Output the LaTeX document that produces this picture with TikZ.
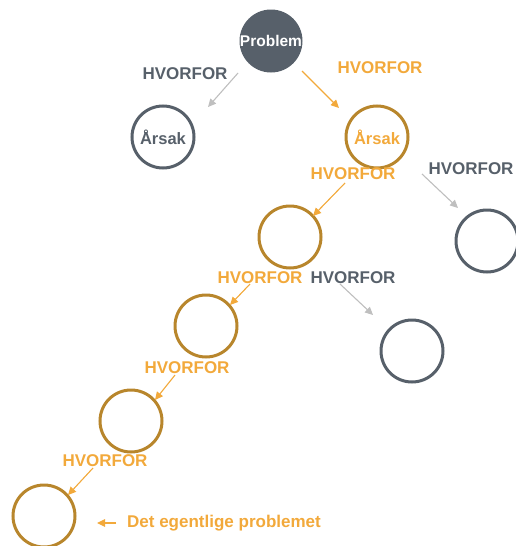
\documentclass[tikz,border=0pt]{standalone}
\usepackage{fontspec}
\setmainfont{Liberation Sans}
\usetikzlibrary{arrows.meta}
\definecolor{slate}{HTML}{57606A}
\definecolor{lightgray}{HTML}{BFBFBF}
\definecolor{amber}{HTML}{F2A93B}
\definecolor{bronze}{HTML}{B8862C}
\tikzset{
  ring/.style={circle, minimum size=62pt, inner sep=0pt, line width=3pt},
  grayring/.style={ring, draw=slate, text=slate},
  goldring/.style={ring, draw=bronze, text=amber},
  lbl/.style={font=\fontsize{17}{19}\selectfont\bfseries, inner sep=0pt},
  graylbl/.style={lbl, text=slate},
  goldlbl/.style={lbl, text=amber},
  arr/.style={line width=1.1pt, -{Triangle[length=8pt,width=7.5pt]}},
  grayarr/.style={arr, draw=lightgray, fill=lightgray},
  goldarr/.style={arr, draw=amber, fill=amber}
}
\begin{document}
\begin{tikzpicture}[x=1pt,y=-1pt]
\useasboundingbox (0,0) rectangle (516,546);

% circles
\node[ring, fill=slate, text=white, font=\fontsize{15.5}{17}\selectfont\bfseries] (prob) at (271,41) {Problem};
\node[grayring, font=\fontsize{16.5}{18}\selectfont\bfseries] (causeL) at (163,137) {Årsak};
\node[goldring, font=\fontsize{16.5}{18}\selectfont\bfseries] (causeR) at (377,137) {Årsak};
\node[grayring] (g1) at (487,241) {};
\node[goldring] (c2) at (290,237) {};
\node[grayring] (g2) at (412,351) {};
\node[goldring] (c3) at (206,326) {};
\node[goldring] (c4) at (131,421) {};
\node[goldring] (c5) at (44,516) {};

% labels
\node[graylbl] (w1) at (185,74) {HVORFOR};
\node[goldlbl] (w2) at (380,68) {HVORFOR};
\node[goldlbl] (w3) at (353,174) {HVORFOR};
\node[graylbl] (w4) at (471,169) {HVORFOR};
\node[goldlbl] (w5) at (260,278) {HVORFOR};
\node[graylbl] (w6) at (353,278) {HVORFOR};
\node[goldlbl] (w7) at (187,368) {HVORFOR};
\node[goldlbl] (w8) at (105,461) {HVORFOR};
\node[goldlbl, anchor=west] (root) at (127,523) {Det egentlige problemet};

% arrow end points
\coordinate (a1s) at (238,73);  \coordinate (a1e) at (208,107);
\coordinate (a2s) at (302,71);  \coordinate (a2e) at (339,108);
\coordinate (a3s) at (345,183); \coordinate (a3e) at (313,216);
\coordinate (a4s) at (422,174); \coordinate (a4e) at (458,208);
\coordinate (a5s) at (250,284); \coordinate (a5e) at (230,305);
\coordinate (a6s) at (340,284); \coordinate (a6e) at (373,315);
\coordinate (a7s) at (175,375); \coordinate (a7e) at (155,400);
\coordinate (a8s) at (93,468);  \coordinate (a8e) at (68,495);
\coordinate (a9s) at (116,523); \coordinate (a9e) at (97,523);

% arrows
\draw[grayarr] (a1s) -- (a1e);
\draw[goldarr] (a2s) -- (a2e);
\draw[goldarr] (a3s) -- (a3e);
\draw[grayarr] (a4s) -- (a4e);
\draw[goldarr] (a5s) -- (a5e);
\draw[grayarr] (a6s) -- (a6e);
\draw[goldarr] (a7s) -- (a7e);
\draw[goldarr] (a8s) -- (a8e);
\draw[goldarr] (a9s) -- (a9e);
\end{tikzpicture}
\end{document}
